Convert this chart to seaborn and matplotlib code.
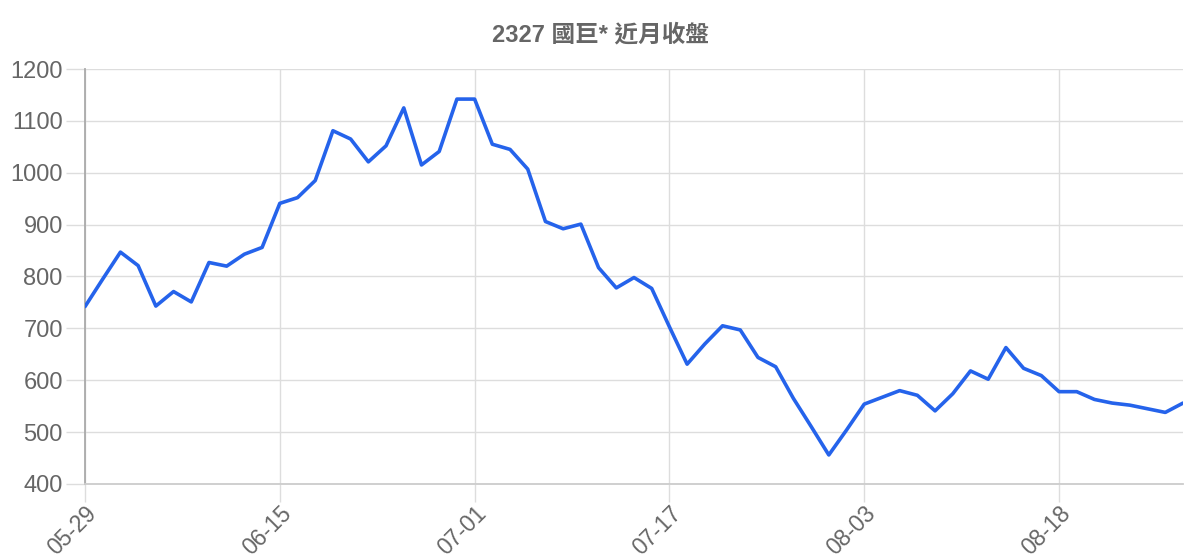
import numpy as np
import pandas as pd
import matplotlib.pyplot as plt
import seaborn as sns

# =========================================
# DATA
# =========================================

close_prices = [
    742, 795, 847, 821, 743, 771, 751, 827, 820, 843,
    856, 941, 952, 985, 1081, 1065, 1021, 1052, 1125, 1015,
    1041, 1142, 1142, 1055, 1045, 1007, 906, 892, 901, 817,
    778, 798, 777, 703, 631, 670, 705, 697, 644, 626,
    565, 511, 456, 504, 554, 567, 580, 571, 541, 574,
    618, 602, 663, 623, 609, 578, 578, 563, 556, 552,
    545, 538, 556,
]

tick_positions = [0, 11, 22, 33, 44, 55]
tick_labels = ['05-29', '06-15', '07-01', '07-17', '08-03', '08-18']

title = '2327 國巨* 近月收盤'

df = pd.DataFrame({
    'idx': np.arange(len(close_prices)),
    'close': close_prices,
})

# =========================================
# PLOT
# =========================================

sns.set_theme(style='white')
plt.rcParams['font.family'] = ['Liberation Sans', 'DejaVu Sans']

fig = plt.figure(figsize=(12, 5.6), dpi=100)
ax = fig.add_axes([85 / 1200, 1 - 484 / 560, (1183 - 85) / 1200, 415 / 560])

sns.lineplot(
    data=df,
    x='idx',
    y='close',
    ax=ax,
    color='#2563eb',
    linewidth=2.6,
    zorder=3,
)

ax.set_xlim(0, len(close_prices) - 1)
ax.set_ylim(400, 1200)
ax.set_yticks(range(400, 1201, 100))
ax.set_xticks(tick_positions)
ax.set_xticklabels(tick_labels, rotation=45, ha='right', rotation_mode='anchor')

ax.grid(True, color='#dddddd', linewidth=1)
ax.set_xlabel('')
ax.set_ylabel('')

for side in ['top', 'right']:
    ax.spines[side].set_visible(False)
ax.spines['left'].set_color('#aaaaaa')
ax.spines['left'].set_linewidth(1.3)
ax.spines['bottom'].set_color('#cccccc')
ax.spines['bottom'].set_linewidth(1.3)

ax.tick_params(axis='y', length=14, width=1, color='#dddddd',
               labelsize=17, labelcolor='#666666', pad=2, left=True)
ax.tick_params(axis='x', length=13, width=1, color='#dddddd',
               labelsize=16.5, labelcolor='#666666', pad=0, bottom=True)
ax.xaxis.get_major_ticks()[0].tick1line.set_color('#aaaaaa')

fig.text(0.5, 1 - 35 / 560, title, ha='center', va='center',
         fontsize=17, fontweight='bold', color='#666666',
         family=['Liberation Sans', 'Noto Sans CJK TC'])

plt.savefig('out.png', dpi=100)
